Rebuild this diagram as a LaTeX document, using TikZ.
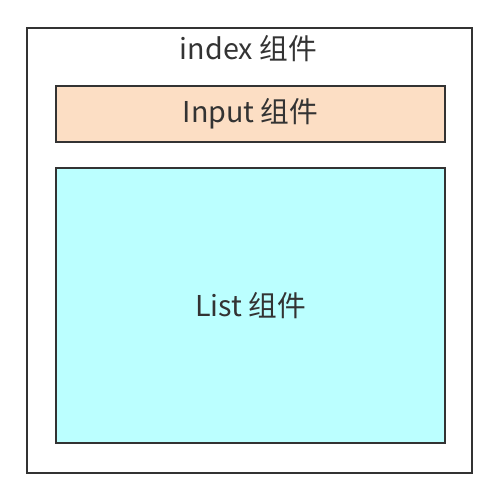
\documentclass[tikz,border=0pt]{standalone}
\usepackage{fontspec}
\setmainfont{Noto Sans CJK SC}
\usetikzlibrary{positioning}
\definecolor{inputfill}{HTML}{FCDEC4}
\definecolor{listfill}{HTML}{BBFFFF}
\definecolor{edgegray}{HTML}{333333}

\begin{document}
\begin{tikzpicture}[
  % Box Styles
  compbox/.style={rectangle, draw=edgegray, line width=2.5pt, inner sep=0pt, anchor=center, align=center},
  outerbox/.style={compbox, minimum width=13.35cm, minimum height=13.35cm},
  childbox/.style={compbox, minimum width=11.67cm, text=edgegray},
  % Label Style
  complabel/.style={text=edgegray, inner sep=0pt},
]
\tikzset{font=\fontsize{24.5}{29}\selectfont}
\useasboundingbox (0,0) rectangle (15.03,-14.43);

% index with its two children

\node[outerbox] (index) at (7.485,-7.515) {};
\node[complabel] (index_label) at (7.45,-1.45) {index 组件};
\node[childbox, fill=inputfill, minimum height=1.68cm] (input) at (7.515,-3.42) {Input 组件};
\node[childbox, fill=listfill, minimum height=8.25cm] (list) at (7.515,-9.165) {List 组件};

\end{tikzpicture}
\end{document}
